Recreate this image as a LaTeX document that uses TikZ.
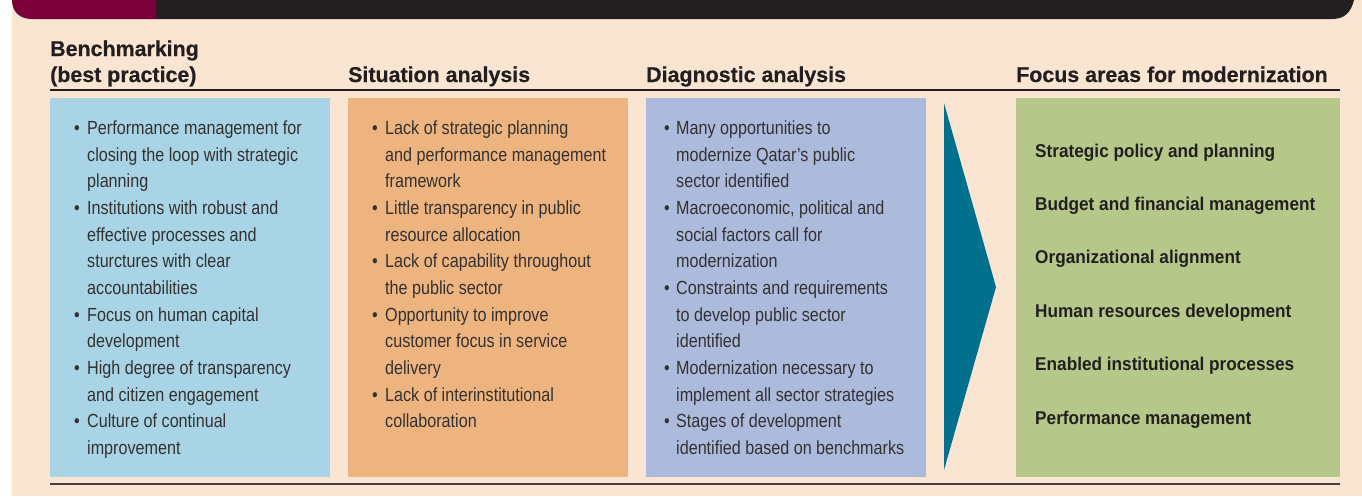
\documentclass[tikz,border=0pt]{standalone}
\usepackage{fontspec}
\setmainfont{Liberation Sans}
\newfontfamily\bodyfont[FakeStretch=0.85]{Liberation Sans}
\newfontfamily\headfont[FakeBold=0.5]{Liberation Sans}
\newfontfamily\focusfont[FakeStretch=0.93]{Liberation Sans}
\usetikzlibrary{positioning}

\definecolor{pagebeige}{HTML}{FAE5D3}
\definecolor{barmaroon}{HTML}{7B0038}
\definecolor{bardark}{HTML}{231F20}
\definecolor{benchblue}{HTML}{A8D4E5}
\definecolor{situorange}{HTML}{EEB47F}
\definecolor{diaglav}{HTML}{ACBADC}
\definecolor{focusgreen}{HTML}{B5C88A}
\definecolor{arrowteal}{HTML}{00708D}
\definecolor{bodygray}{HTML}{333132}

\begin{document}
\begin{tikzpicture}[x=1pt, y=-1pt,
    colbox/.style={anchor=north west, inner sep=0pt, minimum height=379pt, draw=none},
    colhead/.style={anchor=base west, inner sep=0pt, text=bardark, font=\headfont\bfseries\fontsize{21.4}{26}\selectfont},
    bullets/.style={anchor=base west, inner sep=0pt, text=bodygray, font=\bodyfont\fontsize{19}{26.65}\selectfont},
    focusitem/.style={anchor=base west, inner sep=0pt, text=bardark, font=\focusfont\bfseries\fontsize{18.5}{21}\selectfont}]
    \useasboundingbox (0,0) rectangle (1362,496);

    % Background and top bar
    \fill[pagebeige] (12,0) rectangle (1362,496);
    \fill[barmaroon] (12,0) -- (156,0) -- (156,19) -- (32,19) .. controls (20,19) and (12,12) .. (12,0) -- cycle;
    \fill[bardark] (156,0) -- (1354,0) .. controls (1351,12) and (1345,19) .. (1332,19) -- (156,19) -- cycle;

    % Column headings
    \node[colhead] (benchhead) at (50,82) {\begin{tabular}[b]{@{}l@{}}Benchmarking\\(best practice)\end{tabular}};
    \node[colhead] (situhead) at (348,82) {Situation analysis};
    \node[colhead] (diaghead) at (646,82) {Diagnostic analysis};
    \node[colhead] (focushead) at (1016,82) {Focus areas for modernization};

    % Rules
    \draw[bardark, line width=1.3pt] (50,90) -- (1340,90);
    \draw[bardark!85, line width=1.5pt] (50,484) -- (1340,484);

    % Boxes
    \node[colbox, fill=benchblue, minimum width=280pt] (benchbox) at (50,98) {};
    \node[colbox, fill=situorange, minimum width=280pt] (situbox) at (348,98) {};
    \node[colbox, fill=diaglav, minimum width=280pt] (diagbox) at (646,98) {};
    \node[colbox, fill=focusgreen, minimum width=324pt] (focusbox) at (1016,98) {};

    % Arrow
    \fill[arrowteal] (944,103) -- (996,287) -- (944,470) -- cycle;

    % Box texts
    \node[bullets] (benchlist) at (74,134.5) {\begin{tabular}[t]{@{}p{13pt}@{}l@{}}
        \textbullet & Performance management for\\
        & closing the loop with strategic\\
        & planning\\
        \textbullet & Institutions with robust and\\
        & effective processes and\\
        & sturctures with clear\\
        & accountabilities\\
        \textbullet & Focus on human capital\\
        & development\\
        \textbullet & High degree of transparency\\
        & and citizen engagement\\
        \textbullet & Culture of continual\\
        & improvement
    \end{tabular}};
    \node[bullets] (situlist) at (372,134.5) {\begin{tabular}[t]{@{}p{13pt}@{}l@{}}
        \textbullet & Lack of strategic planning\\
        & and performance management\\
        & framework\\
        \textbullet & Little transparency in public\\
        & resource allocation\\
        \textbullet & Lack of capability throughout\\
        & the public sector\\
        \textbullet & Opportunity to improve\\
        & customer focus in service\\
        & delivery\\
        \textbullet & Lack of interinstitutional\\
        & collaboration
    \end{tabular}};
    \node[bullets] (diaglist) at (664,134.5) {\begin{tabular}[t]{@{}p{12pt}@{}l@{}}
        \textbullet & Many opportunities to\\
        & modernize Qatar’s public\\
        & sector identified\\
        \textbullet & Macroeconomic, political and\\
        & social factors call for\\
        & modernization\\
        \textbullet & Constraints and requirements\\
        & to develop public sector\\
        & identified\\
        \textbullet & Modernization necessary to\\
        & implement all sector strategies\\
        \textbullet & Stages of development\\
        & identified based on benchmarks
    \end{tabular}};

    % Focus areas
    \foreach \area [count=\i] in {Strategic policy and planning, Budget and financial management,
        Organizational alignment, Human resources development,
        Enabled institutional processes, Performance management}
        \node[focusitem] (focus\i) at (1035,{157+53.4*(\i-1)}) {\area};
\end{tikzpicture}
\end{document}
